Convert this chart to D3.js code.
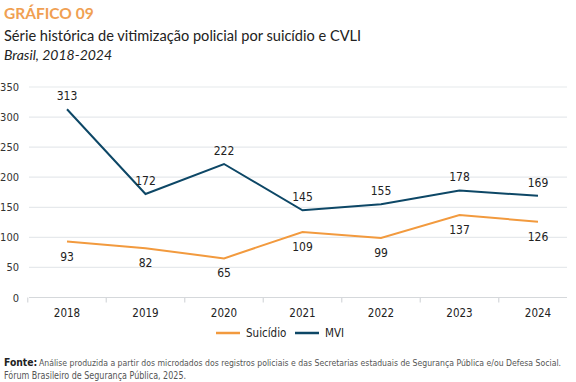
<!DOCTYPE html>
<html>
<head>
<meta charset="utf-8">
<script src="https://cdn.jsdelivr.net/npm/d3@7"></script>
<style>
  body { margin: 0; background: #fff; }
  svg text { font-family: "Liberation Sans Narrow", "DejaVu Sans Condensed", Roboto, sans-serif; }
  .ttl { font-family: Lato, "Open Sans", sans-serif !important; }
</style>
</head>
<body>
<div id="chart"></div>
<script>
var years = ["2018", "2019", "2020", "2021", "2022", "2023", "2024"];
var suicidio = [93, 82, 65, 109, 99, 137, 126];
var mvi = [313, 172, 222, 145, 155, 178, 169];
var yTicks = [0, 50, 100, 150, 200, 250, 300, 350];

var width = 576, height = 382;
var orange = "#F29A3E", navy = "#0D4766";

var svg = d3.select("#chart").append("svg")
  .attr("width", width).attr("height", height);

// titles
svg.append("text").attr("class", "ttl").attr("x", 4).attr("y", 19)
  .attr("font-size", 15.5).attr("font-weight", "bold").attr("fill", "#F0A052")
  .text("GRÁFICO 09");
svg.append("text").attr("class", "ttl").attr("x", 4).attr("y", 41)
  .attr("font-size", 14.6).attr("fill", "#222")
  .text("Série histórica de vitimização policial por suicídio e CVLI");
svg.append("text").attr("class", "ttl").attr("x", 4).attr("y", 60)
  .attr("font-size", 14).attr("font-style", "italic").attr("fill", "#222")
  .text("Brasil, 2018-2024");

var x = d3.scalePoint().domain(years).range([67, 538]);
var step = x.step();
var y = d3.scaleLinear().domain([0, 350]).range([297.5, 87]);

// grid
svg.append("g").selectAll("line").data(yTicks.slice(1)).enter().append("line")
  .attr("x1", 29).attr("x2", 567)
  .attr("y1", function (d) { return y(d); }).attr("y2", function (d) { return y(d); })
  .attr("stroke", "#E6E9EC").attr("stroke-width", 1.2);

// y labels
svg.append("g").selectAll("text").data(yTicks).enter().append("text")
  .attr("x", 19).attr("y", function (d) { return y(d) + 4; })
  .attr("text-anchor", "end").attr("font-size", 11).attr("fill", "#333")
  .text(function (d) { return d; });

// x baseline and ticks between categories
svg.append("line").attr("x1", 29).attr("x2", 567)
  .attr("y1", y(0)).attr("y2", y(0)).attr("stroke", "#D5D8DB").attr("stroke-width", 1.2);
svg.append("g").selectAll("line").data(years).enter().append("line")
  .attr("x1", function (d) { return x(d) - step / 2; })
  .attr("x2", function (d) { return x(d) - step / 2; })
  .attr("y1", y(0)).attr("y2", y(0) + 5)
  .attr("stroke", "#D5D8DB").attr("stroke-width", 1.2);

svg.append("g").selectAll("text").data(years).enter().append("text")
  .attr("x", function (d) { return x(d); }).attr("y", 317)
  .attr("text-anchor", "middle").attr("font-size", 11.5).attr("fill", "#222")
  .text(function (d) { return d; });

// lines
var line = d3.line()
  .x(function (d, i) { return x(years[i]); })
  .y(function (d) { return y(d); });

svg.append("path").datum(suicidio).attr("d", line)
  .attr("fill", "none").attr("stroke", orange).attr("stroke-width", 2);
svg.append("path").datum(mvi).attr("d", line)
  .attr("fill", "none").attr("stroke", navy).attr("stroke-width", 2);

// value labels
svg.append("g").selectAll("text").data(mvi).enter().append("text")
  .attr("x", function (d, i) { return x(years[i]); })
  .attr("y", function (d) { return y(d) - 9; })
  .attr("text-anchor", "middle").attr("font-size", 12).attr("fill", "#222")
  .text(function (d) { return d; });
svg.append("g").selectAll("text").data(suicidio).enter().append("text")
  .attr("x", function (d, i) { return x(years[i]); })
  .attr("y", function (d) { return y(d) + 19; })
  .attr("text-anchor", "middle").attr("font-size", 12).attr("fill", "#222")
  .text(function (d) { return d; });

// legend
var legend = [["Suicídio", orange, 216], ["MVI", navy, 295]];
legend.forEach(function (l) {
  svg.append("line").attr("x1", l[2]).attr("x2", l[2] + 24)
    .attr("y1", 333).attr("y2", 333).attr("stroke", l[1]).attr("stroke-width", 2.5);
  svg.append("text").attr("x", l[2] + 30).attr("y", 337)
    .attr("font-size", 11.5).attr("fill", "#222").text(l[0]);
});

// source
svg.append("text").attr("x", 4).attr("y", 366).attr("font-size", 10.3)
  .attr("font-weight", "bold").attr("fill", "#222").text("Fonte:");
svg.append("text").attr("x", 39).attr("y", 366).attr("font-size", 8.7).attr("fill", "#555")
  .attr("textLength", 522).attr("lengthAdjust", "spacingAndGlyphs")
  .text("Análise produzida a partir dos microdados dos registros policiais e das Secretarias estaduais de Segurança Pública e/ou Defesa Social.");
svg.append("text").attr("x", 4).attr("y", 379).attr("font-size", 10.3).attr("fill", "#555")
  .attr("textLength", 182).attr("lengthAdjust", "spacingAndGlyphs")
  .text("Fórum Brasileiro de Segurança Pública, 2025.");
</script>
</body>
</html>
